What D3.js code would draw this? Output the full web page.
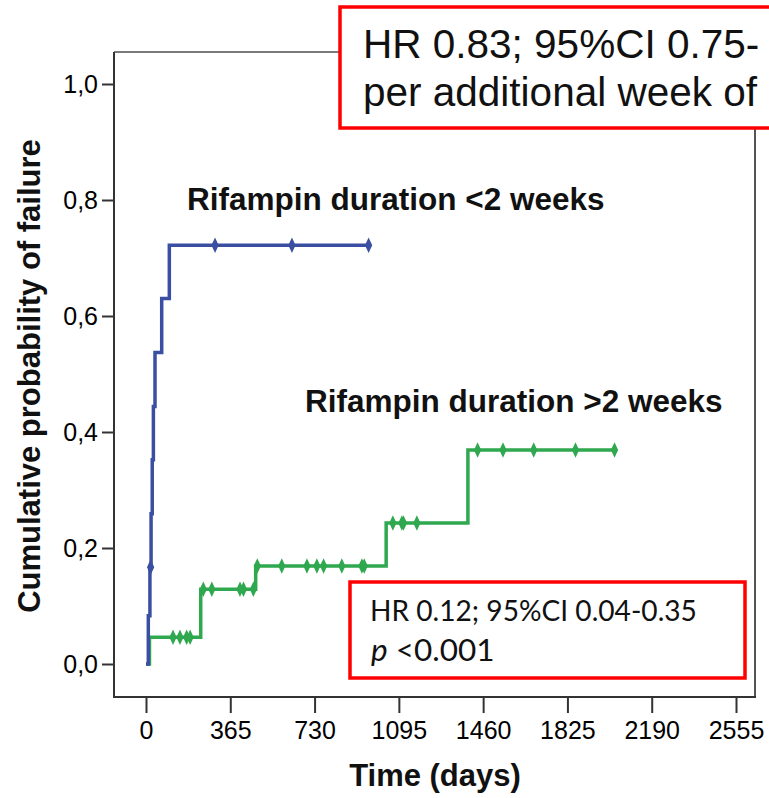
<!DOCTYPE html>
<html>
<head>
<meta charset="utf-8">
<script src="https://cdn.jsdelivr.net/npm/d3@7"></script>
<style>
  html, body { margin: 0; padding: 0; background: #fff; overflow: hidden; }
  svg { display: block; }
</style>
</head>
<body>
<div id="chart"></div>
<script>
// ---------- data ----------
const xTicks = [0, 365, 730, 1095, 1460, 1825, 2190, 2555];
const yTicks = [0, 0.2, 0.4, 0.6, 0.8, 1.0];

const blueTime = [0, 10, 17, 22, 27, 32, 39, 68, 101, 964];
const blueProb = [0, 0.083, 0.167, 0.259, 0.352, 0.444, 0.537, 0.630, 0.722, 0.722];
const blueCensorTime = [20, 299, 632, 964];
const blueCensorProb = [0.167, 0.722, 0.722, 0.722];

const greenTime = [0, 15, 237, 475, 1040, 1394, 2029];
const greenProb = [0, 0.046, 0.129, 0.169, 0.243, 0.369, 0.369];
const greenCensorTime = [117, 147, 176, 191, 248, 285, 407, 422, 465, 482, 588, 697, 740, 769, 848, 935, 945, 1069, 1108, 1115, 1173, 1436, 1546, 1679, 1860, 2029];
const greenCensorProb = [0.046, 0.046, 0.046, 0.046, 0.129, 0.129, 0.129, 0.129, 0.129, 0.169, 0.169, 0.169, 0.169, 0.169, 0.169, 0.169, 0.169, 0.243, 0.243, 0.243, 0.243, 0.369, 0.369, 0.369, 0.369, 0.369];

const labelShort = "Rifampin duration <2 weeks";
const labelLong = "Rifampin duration >2 weeks";
const xTitle = "Time (days)";
const yTitle = "Cumulative probability of failure";
// the reference crops this box at the right edge; only the visible part is shown
const topBoxLines = ["HR 0.83; 95%CI 0.75-", "per additional week of"];
const bottomBoxLine1 = "HR 0.12; 95%CI 0.04-0.35";
const bottomBoxP = "p";
const bottomBoxRest = " <0.001";

// ---------- layout ----------
const W = 769, H = 798;
const frame = { left: 114, top: 52, right: 755, bottom: 697 };
const blue = "#3b4fa2", green = "#2fa84f";

const svg = d3.select("#chart").append("svg").attr("width", W).attr("height", H);

const x = d3.scaleLinear().domain([0, 2555]).range([146, 736]);
const y = d3.scaleLinear().domain([0, 1]).range([664, 84]);

// frame (top & right gray)
svg.append("line").attr("x1", frame.left).attr("x2", frame.right).attr("y1", frame.top).attr("y2", frame.top)
  .attr("stroke", "#7a7a7a").attr("stroke-width", 2);
svg.append("line").attr("x1", frame.right).attr("x2", frame.right).attr("y1", frame.top).attr("y2", frame.bottom)
  .attr("stroke", "#555").attr("stroke-width", 2);

// axes
const yAxis = d3.axisLeft(y).tickValues(yTicks).tickSize(12).tickPadding(4).tickSizeOuter(0)
  .tickFormat(d => d3.format(".1f")(d).replace(".", ","));
const gy = svg.append("g").attr("transform", `translate(${frame.left},0)`).call(yAxis);
gy.select(".domain").remove();
gy.append("line").attr("x1", 0).attr("x2", 0).attr("y1", frame.top).attr("y2", frame.bottom + 1)
  .attr("stroke", "#333").attr("stroke-width", 2);

const xAxis = d3.axisBottom(x).tickValues(xTicks).tickSize(16).tickPadding(8).tickSizeOuter(0)
  .tickFormat(d3.format("d"));
const gx = svg.append("g").attr("transform", `translate(0,${frame.bottom})`).call(xAxis);
gx.select(".domain").remove();
gx.append("line").attr("x1", frame.left - 1).attr("x2", frame.right + 1).attr("y1", 0).attr("y2", 0)
  .attr("stroke", "#333").attr("stroke-width", 2);

[gx, gy].forEach(g => {
  g.selectAll(".tick line").attr("stroke", "#333").attr("stroke-width", 2);
  g.selectAll(".tick text").attr("fill", "#000").style("font-family", "'Liberation Sans', Arial, sans-serif").style("font-size", "25px");
});

// curves
const line = d3.line().x(d => x(d[0])).y(d => y(d[1])).curve(d3.curveStepAfter);
const blueData = blueTime.map((t, i) => [t, blueProb[i]]);
const greenData = greenTime.map((t, i) => [t, greenProb[i]]);

svg.append("path").datum(greenData).attr("d", line).attr("fill", "none")
  .attr("stroke", green).attr("stroke-width", 3.5);
svg.append("path").datum(blueData).attr("d", line).attr("fill", "none")
  .attr("stroke", blue).attr("stroke-width", 3.5);

const censorShape = "M0,-6 L2.8,0 L0,6 L-2.8,0 Z";
function drawCensors(times, probs, color) {
  svg.append("g").selectAll("path").data(times.map((t, i) => [t, probs[i]])).join("path")
    .attr("d", censorShape)
    .attr("transform", d => `translate(${x(d[0])},${y(d[1])})`)
    .attr("fill", color).attr("stroke", color).attr("stroke-width", 1.5);
}
drawCensors(greenCensorTime, greenCensorProb, green);
drawCensors(blueCensorTime, blueCensorProb, blue);

// curve labels
const boldFont = "'Liberation Sans', Arial, sans-serif";
svg.append("text").attr("x", 187).attr("y", 210).text(labelShort)
  .style("font-family", boldFont).style("font-weight", "bold").style("font-size", "31.5px").attr("fill", "#111");
svg.append("text").attr("x", 305).attr("y", 412).text(labelLong)
  .style("font-family", boldFont).style("font-weight", "bold").style("font-size", "31.5px").attr("fill", "#111");

// axis titles
svg.append("text").attr("x", 435).attr("y", 786).attr("text-anchor", "middle").text(xTitle)
  .style("font-family", boldFont).style("font-weight", "bold").style("font-size", "31px").attr("fill", "#111");
svg.append("text").attr("transform", "translate(40,376) rotate(-90)").attr("text-anchor", "middle").text(yTitle)
  .style("font-family", boldFont).style("font-weight", "bold").style("font-size", "31px").attr("fill", "#111");

// bottom annotation box
svg.append("rect").attr("x", 350).attr("y", 582).attr("width", 395).attr("height", 96)
  .attr("fill", "#fff").attr("stroke", "#ff0000").attr("stroke-width", 3.5);
const calFont = "Lato, 'Open Sans', sans-serif";
const t1 = svg.append("text").attr("x", 370).attr("y", 621).text(bottomBoxLine1)
  .style("font-family", calFont).style("font-size", "26px").attr("fill", "#111");
const w1 = t1.node().getComputedTextLength();
const fs1 = 26 * 327 / w1;
t1.style("font-size", fs1 + "px");
const t2 = svg.append("text").attr("x", 371).attr("y", 661)
  .style("font-family", calFont).style("font-size", (fs1 * 1.12) + "px").attr("fill", "#111");
t2.append("tspan").style("font-style", "italic").text(bottomBoxP);
t2.append("tspan").text(bottomBoxRest);

// top annotation box (extends past the right edge)
svg.append("rect").attr("x", 340).attr("y", 7).attr("width", 480).attr("height", 121)
  .attr("fill", "#fff").attr("stroke", "#ff0000").attr("stroke-width", 3.5);
topBoxLines.forEach((s, i) => {
  svg.append("text").attr("x", 363).attr("y", 58 + i * 48).text(s)
    .style("font-family", "'Liberation Sans', Arial, sans-serif").style("font-size", "40.5px").attr("fill", "#111");
});
</script>
</body>
</html>
